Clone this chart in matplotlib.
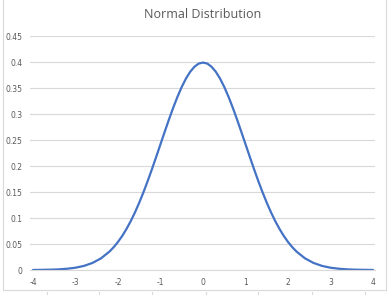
import matplotlib
matplotlib.use("Agg")
import matplotlib.pyplot as plt
from matplotlib.lines import Line2D

# values
x = [-4.0, -3.8, -3.6, -3.4, -3.2, -3.0, -2.8, -2.6, -2.4,
     -2.2, -2.1, -2.0, -1.9, -1.8, -1.7, -1.6, -1.5, -1.4, -1.3, -1.2, -1.1,
     -1.0, -0.9, -0.8, -0.7, -0.6, -0.5, -0.4, -0.3, -0.2, -0.1,
     0.0, 0.1, 0.2, 0.3, 0.4, 0.5, 0.6, 0.7, 0.8, 0.9,
     1.0, 1.1, 1.2, 1.3, 1.4, 1.5, 1.6, 1.7, 1.8, 1.9, 2.0, 2.1, 2.2,
     2.4, 2.6, 2.8, 3.0, 3.2, 3.4, 3.6, 3.8, 4.0]
y = [0.0001, 0.0003, 0.0006, 0.0012, 0.0024, 0.0044, 0.0079, 0.0136, 0.0224,
     0.0355, 0.0440, 0.0540, 0.0656, 0.0790, 0.0940, 0.1109, 0.1295, 0.1497, 0.1714, 0.1942, 0.2179,
     0.2420, 0.2661, 0.2897, 0.3123, 0.3332, 0.3521, 0.3683, 0.3814, 0.3910, 0.3970,
     0.3989, 0.3970, 0.3910, 0.3814, 0.3683, 0.3521, 0.3332, 0.3123, 0.2897, 0.2661,
     0.2420, 0.2179, 0.1942, 0.1714, 0.1497, 0.1295, 0.1109, 0.0940, 0.0790, 0.0656, 0.0540, 0.0440, 0.0355,
     0.0224, 0.0136, 0.0079, 0.0044, 0.0024, 0.0012, 0.0006, 0.0003, 0.0001]
xticks = [-4, -3, -2, -1, 0, 1, 2, 3, 4]
xlabels = ["-4", "-3", "-2", "-1", "0", "1", "2", "3", "4"]
yticks = [0, 0.05, 0.1, 0.15, 0.2, 0.25, 0.3, 0.35, 0.4, 0.45]
ylabels = ["0", "0.05", "0.1", "0.15", "0.2", "0.25", "0.3", "0.35", "0.4", "0.45"]

W, H = 388, 295
fig = plt.figure(figsize=(W / 100, H / 100), dpi=100)
ax = fig.add_axes([30 / W, 1 - 270 / H, 345 / W, 234 / H])

grey = "#595959"
gridc = "#d9d9d9"

ax.plot(x, y, color="#4472C4", lw=1.6, solid_capstyle="round", solid_joinstyle="round")
ax.set_xlim(-4 - 3 / 42.5, 4 + 2 / 42.5)
ax.set_ylim(0, 0.45)
ax.set_xticks(xticks)
ax.set_xticklabels(xlabels)
ax.set_yticks(yticks)
ax.set_yticklabels(ylabels)
ax.grid(axis="y", color=gridc, lw=0.8)
ax.set_axisbelow(True)
for s in ["top", "right", "left"]:
    ax.spines[s].set_visible(False)
ax.spines["bottom"].set_color(gridc)
ax.spines["bottom"].set_linewidth(0.8)
ax.tick_params(length=0, labelsize=5.5, labelcolor=grey)
ax.tick_params(axis="y", pad=5.5)
ax.tick_params(axis="x", pad=6)

fig.text(203 / W, 1 - 15 / H, "Normal Distribution", ha="center", va="center",
         fontsize=9, color=grey, family="Open Sans")

# chart frame and sheet column lines below it
fig.add_artist(Line2D([2.5 / W, 2.5 / W], [1 - 290 / H, 1], color=gridc, lw=0.8))
fig.add_artist(Line2D([385.5 / W, 385.5 / W], [1 - 290 / H, 1], color=gridc, lw=0.8))
fig.add_artist(Line2D([2.5 / W, 385.5 / W], [1 - 290 / H, 1 - 290 / H], color=gridc, lw=0.8))
for cx in [47, 99, 152, 206, 258, 312, 365]:
    fig.add_artist(Line2D([cx / W, cx / W], [0, 1 - 292 / H], color=gridc, lw=0.8))

fig.savefig("out.png", dpi=100)
